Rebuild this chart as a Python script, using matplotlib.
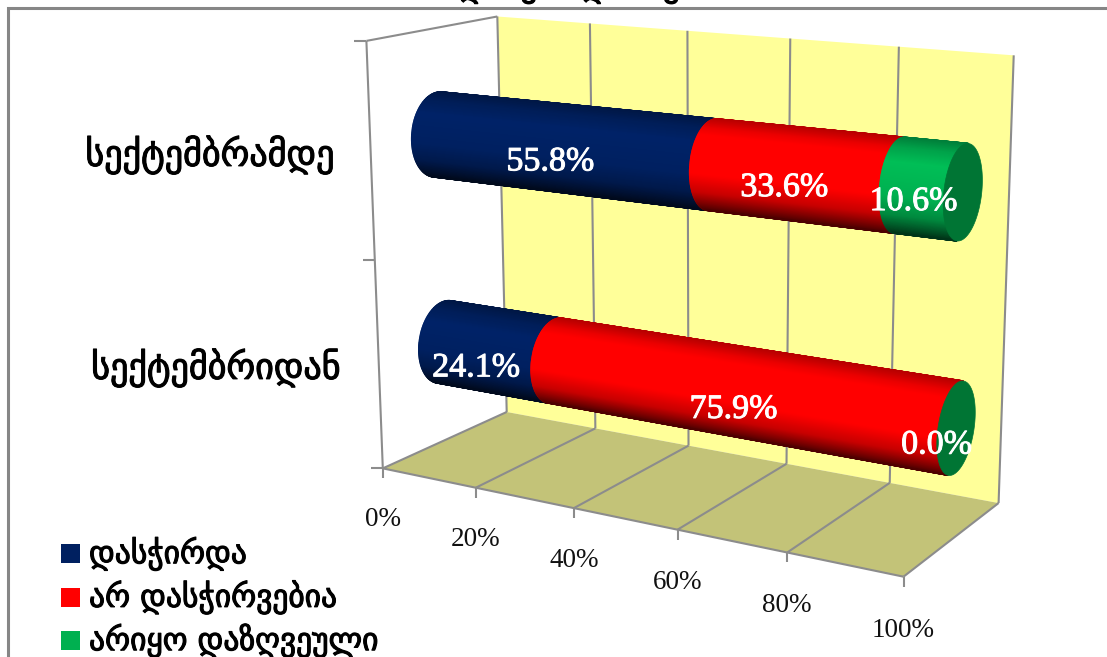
import numpy as np
import matplotlib
matplotlib.use('Agg')
import matplotlib.pyplot as plt
import matplotlib.patheffects as pe
from matplotlib.patches import Polygon, Rectangle

# data
categories = ['სექტემბრიდან', 'სექტემბრამდე']
series_names = ['დასჭირდა', 'არ დასჭირვებია', 'არიყო დაზღვეული']
needed = [24.1, 55.8]
not_needed = [75.9, 33.6]
not_insured = [0.0, 10.6]
axis_ticks = [0, 20, 40, 60, 80, 100]
title = 'დასჭირდა თუ არა'

colors = ['#002060', '#FF0000', '#00B050']
cap_color = '#007534'
wall_color = '#FFFF99'
floor_color = '#C3C378'
line_color = '#8C8C8C'

georgian = 'DejaVu Sans'
latin = 'Liberation Serif'

# calibration of the 3d box: (value, depth, height) -> screen position
box_pts = np.array([
    (0, 0, 0), (.2, 0, 0), (.4, 0, 0), (.6, 0, 0), (.8, 0, 0), (1, 0, 0),
    (0, 1, 0), (.2, 1, 0), (.4, 1, 0), (.6, 1, 0), (.8, 1, 0), (1, 1, 0),
    (0, 0, 1), (0, 1, 1), (.2, 1, 1), (.4, 1, 1), (.6, 1, 1), (.8, 1, 1), (1, 1, 1),
], dtype=float)
screen_pts = np.array([
    (383, 468), (476, 488), (574, 508), (677, 531), (787, 552), (903, 577),
    (505, 411), (595, 428), (690, 446), (790, 464), (889, 483), (997, 503),
    (367, 40), (497, 17), (589, 24), (688, 32), (790, 39), (899, 46), (1014, 54),
], dtype=float)

rows = []
for (a, b, c), (u, v) in zip(box_pts, screen_pts):
    rows.append([a, b, c, 1, 0, 0, 0, 0, -u*a, -u*b, -u*c, -u])
    rows.append([0, 0, 0, 0, a, b, c, 1, -v*a, -v*b, -v*c, -v])
P = np.linalg.svd(np.array(rows))[2][-1].reshape(3, 4)


def project(x, d, h):
    x, d, h = np.broadcast_arrays(x, d, h)
    q = P @ np.vstack([x.ravel(), d.ravel(), h.ravel(), np.ones(x.size)])
    return np.column_stack([q[0]/q[2], q[1]/q[2]])


def pt(x, d, h):
    return project(x, d, h)[0]


fig = plt.figure(figsize=(11.07, 6.57), dpi=100)
ax = fig.add_axes([0, 0, 1, 1])
ax.set_xlim(0, 1107)
ax.set_ylim(657, 0)
ax.axis('off')


def line(p, q, lw=1.5, z=2):
    ax.plot([p[0], q[0]], [p[1], q[1]], color=line_color, lw=lw, zorder=z, solid_capstyle='butt')


# walls and floor
ax.add_patch(Polygon([pt(0, 1, 0), pt(1, 1, 0), pt(1, 1, 1), pt(0, 1, 1)], fc=wall_color, ec='none', zorder=1))
ax.add_patch(Polygon([pt(0, 0, 0), pt(1, 0, 0), pt(1, 1, 0), pt(0, 1, 0)], fc=floor_color, ec='none', zorder=1))

for t in axis_ticks:
    x = t / 100
    line(pt(x, 1, 0), pt(x, 1, 1))
    line(pt(x, 0, 0), pt(x, 1, 0))
    p = pt(x, 0, 0)
    line(p, (p[0], p[1] + 10))
    ax.text(p[0], p[1] + 51 + 3*x, f'{t}%', family=latin, fontsize=19.5, ha='center', va='center', color='#111111')

# left side panel and category ticks
line(pt(0, 0, 0), pt(0, 0, 1))
line(pt(0, 0, 1), pt(0, 1, 1))
line(pt(0, 0, 0), pt(1, 0, 0))
for h in [0, .5, 1]:
    p = pt(0, 0, h)
    line(p, (p[0] - 12, p[1]))

# cylinders
r_d, r_h = 0.2, 0.1
angles = np.linspace(0, 2*np.pi, 241)
u_knots = [0, .1, .25, .6, .8, 1]
f_knots = [.72, .92, 1.08, 1.0, .78, .3]
bar_heights = [.245, .75]
label_dy = [17, 13]
label_dx = [[-3, 8, 0], [0, 0, 2]]


def ring(x, h):
    return project(x, 0.5 + r_d*np.cos(angles), h + r_h*np.sin(angles))


def signed_area(poly):
    x_, y_ = poly[:, 0], poly[:, 1]
    return np.dot(x_, np.roll(y_, -1)) - np.dot(y_, np.roll(x_, -1))


for i, h in enumerate(bar_heights):
    vals = [needed[i], not_needed[i], not_insured[i]]
    left = 0
    for s, v in enumerate(vals):
        right = left + v/100
        if v > 0:
            a = ring(left, h)
            b = ring(right, h)
            # keep only the strips of the tube that face the viewer, top edge first
            idx = [k for k in range(len(angles) - 1)
                   if signed_area(np.array([a[k], a[k+1], b[k+1], b[k]])) < 0]
            idx = sorted(idx, key=lambda k: a[k, 1] + a[k+1, 1])
            base = np.array(matplotlib.colors.to_rgb(colors[s]))
            y0, y1 = a[:, 1].min(), a[:, 1].max()
            for n, k in enumerate(idx):
                # shade by screen position across the tube
                u = ((a[k, 1] + a[k+1, 1])/2 - y0) / (y1 - y0)
                c = np.clip(base * np.interp(u, u_knots, f_knots), 0, 1)
                poly = [a[k], a[k+1], b[k+1], b[k]]
                ax.add_patch(Polygon(poly, fc=c, ec=c, lw=1.0, zorder=5 + s + n/1000))
        left = right
    # end cap
    ax.add_patch(Polygon(ring(1.0, h), fc=cap_color, ec=cap_color, lw=.5, zorder=9))

# value labels
for i, h in enumerate(bar_heights):
    vals = [needed[i], not_needed[i], not_insured[i]]
    left = 0
    for s, v in enumerate(vals):
        m = left + v/200
        p = pt(m, .5, h)
        ax.text(p[0] - 20 + label_dx[i][s], p[1] + label_dy[i], f'{v:.1f}%', family=latin, fontsize=24.5,
                color='white', ha='center', va='center', zorder=12,
                path_effects=[pe.withStroke(linewidth=.7, foreground='white')])
        left += v/100

# category labels
cat_pos = [(216, 368), (210, 155)]
heavy = [pe.withStroke(linewidth=.8, foreground='black')]
for c, (x, y) in zip(categories, cat_pos):
    ax.text(x, y, c, family=georgian, fontsize=26, ha='center', va='center', color='black', path_effects=heavy)

# legend
for k, name in enumerate(series_names):
    y = 544 + k*43.5
    ax.add_patch(Rectangle((61, y), 19, 19, fc=colors[k], ec='none'))
    ax.text(89, y + 9.5, name, family=georgian, fontsize=22.7, ha='left', va='center', color='black', path_effects=heavy)

# chart frame, title runs off the top edge
ax.text(605, -4, title, family=georgian, fontsize=24, ha='center', va='baseline', color='black', path_effects=heavy)
ax.plot([8, 8, 1107], [657, 8, 8], color='#868686', lw=2.2, zorder=20, solid_joinstyle='miter')

fig.savefig('out.png', dpi=100)
